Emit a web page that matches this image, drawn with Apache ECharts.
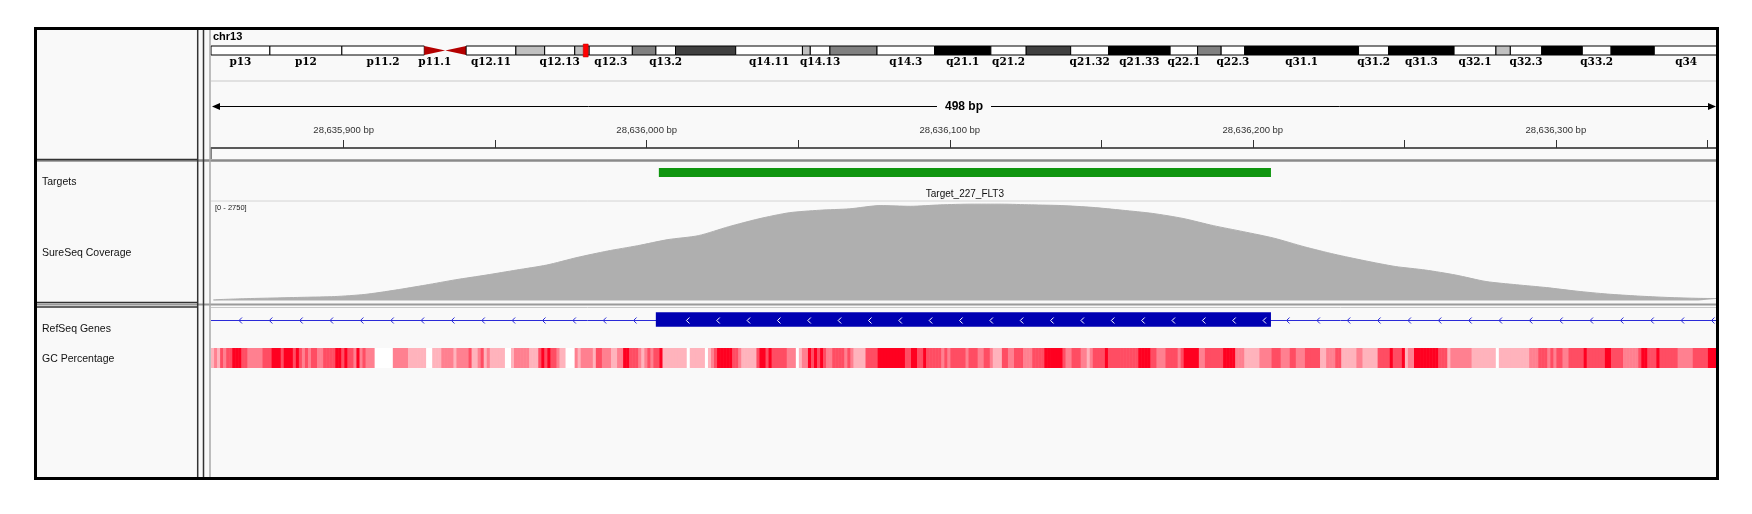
<!DOCTYPE html>
<html>
<head>
<meta charset="utf-8">
<title>chr13 FLT3 - Target_227_FLT3</title>
<script src="https://cdn.jsdelivr.net/npm/echarts@6/dist/echarts.min.js"></script>
<style>
  html, body { margin: 0; padding: 0; background: #fff; }
  #chart { width: 1752px; height: 514px; }
</style>
</head>
<body>
<div id="chart"></div>
<script>
// locus shown: chr13, FLT3 exon covered by Target_227_FLT3
const chrom = "chr13";
const chromLengthMb = 115.169878;
const regionStart = 28635856.2;
const regionEnd = 28636353.2;

// cytobands of chr13 (Mb)
const bandNames = ["p13", "p12", "p11.2", "p11.1", "q11", "q12.11", "q12.12", "q12.13", "q12.2", "q12.3",
  "q13.1", "q13.2", "q13.3", "q14.11", "q14.12", "q14.13", "q14.2", "q14.3", "q21.1", "q21.2",
  "q21.31", "q21.32", "q21.33", "q22.1", "q22.2", "q22.3", "q31.1", "q31.2", "q31.3", "q32.1",
  "q32.2", "q32.3", "q33.1", "q33.2", "q33.3", "q34"];
const bandStarts = [0, 4.5, 10.0, 16.3, 17.9, 19.5, 23.3, 25.5, 27.8, 28.9,
  32.2, 34.0, 35.5, 40.1, 45.2, 45.8, 47.3, 50.9, 55.3, 59.6,
  62.3, 65.7, 68.6, 73.3, 75.4, 77.2, 79.0, 87.7, 90.0, 95.0,
  98.2, 99.3, 101.7, 104.8, 107.0, 110.3];
const bandEnds = [4.5, 10.0, 16.3, 17.9, 19.5, 23.3, 25.5, 27.8, 28.9, 32.2,
  34.0, 35.5, 40.1, 45.2, 45.8, 47.3, 50.9, 55.3, 59.6, 62.3,
  65.7, 68.6, 73.3, 75.4, 77.2, 79.0, 87.7, 90.0, 95.0, 98.2,
  99.3, 101.7, 104.8, 107.0, 110.3, 115.169878];
const bandStains = ["gvar", "stalk", "gvar", "acen", "acen", "gneg", "gpos25", "gneg", "gpos25", "gneg",
  "gpos50", "gneg", "gpos75", "gneg", "gpos25", "gneg", "gpos50", "gneg", "gpos100", "gneg",
  "gpos75", "gneg", "gpos100", "gneg", "gpos50", "gneg", "gpos100", "gneg", "gpos100", "gneg",
  "gpos25", "gneg", "gpos100", "gneg", "gpos100", "gneg"];
const bandLabelsShown = ["p13", "p12", "p11.2", "p11.1", "q12.11", "q12.13", "q12.3", "q13.2", "q14.11",
  "q14.13", "q14.3", "q21.1", "q21.2", "q21.32", "q21.33", "q22.1", "q22.3", "q31.1", "q31.2",
  "q31.3", "q32.1", "q32.3", "q33.2", "q34"];

// ruler
const rulerTicks = [28635900, 28635950, 28636000, 28636050, 28636100, 28636150,
  28636200, 28636250, 28636300, 28636350];
const rulerLabels = [28635900, 28636000, 28636100, 28636200, 28636300];

// Targets track
const targetName = "Target_227_FLT3";
const targetStart = 28636004;
const targetEnd = 28636206;

// SureSeq Coverage track
const coverageMax = 2750;
const coveragePos = [28635857, 28635867, 28635877, 28635887, 28635897, 28635907, 28635917, 28635927,
  28635937, 28635947, 28635957, 28635967, 28635977, 28635987, 28635997, 28636007, 28636017,
  28636027, 28636037, 28636047, 28636057, 28636067, 28636077, 28636087, 28636097, 28636107,
  28636117, 28636127, 28636137, 28636147, 28636157, 28636167, 28636177, 28636187, 28636197,
  28636207, 28636217, 28636227, 28636237, 28636247, 28636257, 28636267, 28636277, 28636287,
  28636297, 28636307, 28636317, 28636327, 28636337, 28636347, 28636354];
const coverageDepth = [20, 50, 70, 90, 110, 170, 290, 430, 580, 710,
  850, 990, 1200, 1380, 1530, 1700, 1810, 2060, 2280, 2450,
  2520, 2560, 2650, 2630, 2670, 2690, 2690, 2670, 2650, 2600,
  2520, 2430, 2290, 2090, 1920, 1740, 1500, 1290, 1110, 950,
  850, 710, 530, 440, 360, 260, 180, 125, 85, 60, 55];

// RefSeq Genes track (minus strand)
const geneName = "FLT3";
const exonStart = 28636003;
const exonEnd = 28636206;

// GC Percentage, one value per base from the left edge of the view
const gcPercent = [
  45,55,45,65,55,65,65,80,80,80, 65,65,55,55,55,55,55,65,65,65,
  80,80,80,65,80,80,80,65,80,65, 55,65,55,65,65,55,55,65,65,65,
  65,80,80,65,80,65,65,55,80,55, 65,55,55,55,30,30,30,30,30,30,
  55,55,55,55,55,45,45,45,45,45, 45,30,30,45,45,45,55,55,55,55,
  45,55,55,55,55,65,45,45,55,65, 45,55,45,45,45,45,45,30,30,45,
  55,55,55,55,55,45,45,45,65,80, 65,80,65,65,55,45,45,30,30,30,
  55,45,55,55,55,55,45,65,65,55, 55,55,45,45,55,55,80,80,65,65,
  65,55,45,55,65,55,65,65,80,45, 45,45,45,45,45,45,45,30,45,45,
  45,45,45,30,45,55,65,80,80,80, 80,80,65,65,55,45,45,45,45,45,
  65,80,80,65,80,65,65,65,65,65, 55,55,55,30,45,55,55,80,65,80,
  65,80,65,55,55,65,65,65,65,55, 65,55,45,45,45,45,65,65,65,65,
  80,80,80,80,80,80,80,80,80,65, 65,80,80,65,65,80,65,65,65,65,
  65,55,65,55,65,65,65,65,65,55, 65,65,65,55,55,65,65,55,45,45,
  45,65,65,55,55,65,65,65,55,55, 55,65,65,65,65,80,80,80,80,80,
  80,65,55,55,65,65,65,55,55,45, 55,65,65,65,65,80,65,65,65,65,
  65,65,65,65,65,65,80,80,80,80, 65,65,55,55,55,65,65,65,65,55,
  65,80,80,80,80,80,55,55,65,65, 65,65,65,65,80,80,80,80,55,55,
  55,45,45,45,45,45,55,55,55,55, 65,65,65,55,55,55,65,65,55,55,
  55,65,65,65,65,65,45,45,55,55, 55,65,65,45,45,45,45,45,55,55,
  45,45,45,45,45,65,65,65,65,80, 65,65,65,80,45,55,55,80,80,80,
  80,80,80,80,80,65,65,65,45,55, 55,55,55,55,55,55,45,45,45,45,
  45,45,45,45,30,45,45,45,45,45, 45,45,45,45,45,55,55,55,65,65,
  65,55,65,55,65,65,55,55,65,65, 65,65,65,80,65,65,65,65,65,65,
  80,80,65,65,65,65,55,55,55,55, 55,65,80,80,65,65,65,80,65,65,
  65,65,65,65,55,55,55,55,55,65, 65,65,65,65,80,80,80,80
];

const trackNames = ["Targets", "SureSeq Coverage", "RefSeq Genes", "GC Percentage"];

const stainColors = {
  gneg: "#ffffff", gvar: "#ffffff", stalk: "#ffffff",
  gpos25: "#c0c0c0", gpos50: "#808080", gpos75: "#404040", gpos100: "#000000",
  acen: "#b40000"
};
const panelBg = "#f9f9f9";
const sans = "Liberation Sans, Arial, sans-serif";

const chart = echarts.init(document.getElementById("chart"));

function grid(top, height, right) {
  return { left: 211, right: right, top: top, height: height, containLabel: false, outerBoundsMode: "none" };
}
function hiddenX(i, min, max) {
  return { gridIndex: i, type: "value", min: min, max: max, show: false };
}
function hiddenY(i, max) {
  return { gridIndex: i, type: "value", min: 0, max: max, show: false };
}
function hline(x1, x2, y, color, w) {
  return { type: "line", z: 100, shape: { x1: x1, y1: y, x2: x2, y2: y }, style: { stroke: color, lineWidth: w } };
}
function vline(x, y1, y2, color, w) {
  return { type: "line", z: 100, shape: { x1: x, y1: y1, x2: x, y2: y2 }, style: { stroke: color, lineWidth: w } };
}
function chevron(x, y, color) {
  return { type: "polyline", shape: { points: [[x + 2, y - 3], [x - 1, y], [x + 2, y + 3]] },
    style: { stroke: color, lineWidth: 1, fill: null } };
}

const panelText = [
  { name: trackNames[0], y: 182 },
  { name: trackNames[1], y: 253 },
  { name: trackNames[2], y: 329 },
  { name: trackNames[3], y: 359 }
].map(t => ({
  type: "text", x: 42, y: t.y, z: 100,
  style: { text: t.name, fontSize: 10.5, fontFamily: sans, fill: "#111", verticalAlign: "middle" }
}));

const option = {
  animation: false,
  backgroundColor: "#ffffff",
  grid: [
    grid(46, 9, 34),      // ideogram
    grid(82, 66, 35),     // ruler
    grid(160, 41, 35),    // Targets
    grid(202, 98.5, 35),  // coverage
    grid(310, 20, 35),    // genes
    grid(348, 20, 35)     // GC
  ],
  xAxis: [
    hiddenX(0, 0, chromLengthMb),
    {
      gridIndex: 1, type: "value", min: regionStart, max: regionEnd,
      axisLine: { show: true, lineStyle: { color: "#5a5a5a", width: 2 } },
      axisTick: { show: true, inside: true, length: 8, customValues: rulerTicks,
        lineStyle: { color: "#333", width: 1 } },
      axisLabel: { show: true, inside: true, margin: 13, customValues: rulerLabels,
        formatter: v => v.toLocaleString("en-US") + " bp",
        fontSize: 9.5, fontFamily: sans, color: "#333" },
      splitLine: { show: false }
    },
    hiddenX(2, regionStart, regionEnd),
    hiddenX(3, regionStart, regionEnd),
    hiddenX(4, regionStart, regionEnd),
    hiddenX(5, regionStart, regionEnd)
  ],
  yAxis: [hiddenY(0, 1), hiddenY(1, 1), hiddenY(2, 1), hiddenY(3, coverageMax), hiddenY(4, 1), hiddenY(5, 1)],
  visualMap: {
    type: "continuous", show: false, seriesIndex: 6, dimension: 1,
    min: 30, max: 80, inRange: { color: ["#ffffff", "#ff0020"] }
  },
  graphic: [
    { type: "rect", z: -10, shape: { x: 36, y: 29, width: 1681, height: 449 }, style: { fill: panelBg } },
    hline(211, 1717, 81, "#d9d9d9", 1.5),
    hline(211, 1717, 201, "#d4d4d4", 1),
    vline(211, 148, 159, "#5a5a5a", 1.5),
    hline(36, 1717, 160.5, "#8a8a8a", 2.5),
    hline(36, 198, 159.5, "#333", 1.5),
    hline(36, 198, 302.5, "#333", 1.5),
    hline(36, 1717, 304.5, "#9a9a9a", 2),
    hline(36, 198, 307, "#333", 1.5),
    hline(211, 1717, 307.5, "#c8c8c8", 1),
    vline(197.7, 29, 478, "#333", 1.5),
    vline(203.5, 29, 478, "#333", 1.5),
    vline(210, 29, 478, "#a8a8a8", 1.5),
    { type: "text", x: 213, y: 37, z: 100,
      style: { text: chrom, fontSize: 11, fontWeight: "bold", fontFamily: sans, fill: "#000", verticalAlign: "middle" } },
    { type: "text", x: 215, y: 208, z: 100,
      style: { text: "[0 - " + coverageMax + "]", fontSize: 7.5, fontFamily: sans, fill: "#222", verticalAlign: "middle" } },
    { type: "rect", z: 200, shape: { x: 35.5, y: 28.5, width: 1682, height: 450 },
      style: { fill: null, stroke: "#000", lineWidth: 3 } }
  ].concat(panelText),
  series: [
    {
      // chromosome ideogram
      type: "custom", xAxisIndex: 0, yAxisIndex: 0, clip: false, silent: true,
      data: bandNames.map((n, i) => [bandStarts[i], bandEnds[i]]),
      encode: { x: [0, 1] },
      renderItem(params, api) {
        const i = params.dataIndex;
        const s = api.coord([api.value(0), 0]);
        const e = api.coord([api.value(1), 1]);
        const x0 = s[0], x1 = e[0], yTop = e[1], yBot = s[1];
        const name = bandNames[i];
        const children = [];
        if (bandStains[i] === "acen") {
          const mid = (yTop + yBot) / 2;
          const pts = name.charAt(0) === "p"
            ? [[x0, yTop], [x1, mid], [x0, yBot]]
            : [[x1, yTop], [x0, mid], [x1, yBot]];
          children.push({ type: "polygon", shape: { points: pts }, style: { fill: stainColors.acen } });
        } else {
          children.push({ type: "rect", shape: { x: x0, y: yTop, width: x1 - x0, height: yBot - yTop },
            style: { fill: stainColors[bandStains[i]], stroke: "#000", lineWidth: 1 } });
        }
        if (bandLabelsShown.indexOf(name) >= 0) {
          children.push({ type: "text", x: (x0 + x1) / 2, y: yBot + 7.5,
            style: { text: name, fontSize: 10.5, fontWeight: "bold", fontFamily: "DejaVu Serif, serif",
              fill: "#000", align: "center", verticalAlign: "middle" } });
        }
        return { type: "group", children: children };
      }
    },
    {
      // current view marker on the ideogram
      type: "custom", xAxisIndex: 0, yAxisIndex: 0, clip: false, silent: true, z: 5,
      data: [[(regionStart + regionEnd) / 2 / 1e6]],
      renderItem(params, api) {
        const c = api.coord([api.value(0), 1]);
        const b = api.coord([api.value(0), 0]);
        return { type: "rect", shape: { x: c[0] - 2.5, y: c[1] - 2, width: 5, height: b[1] - c[1] + 4 },
          style: { fill: "#ff0000", stroke: "#c00000", lineWidth: 0.5 } };
      }
    },
    {
      // ruler span arrow
      type: "custom", xAxisIndex: 1, yAxisIndex: 1, clip: false, silent: true,
      data: [[regionStart, regionEnd]],
      encode: { x: [0, 1] },
      renderItem(params, api) {
        const a = api.coord([api.value(0), 0.636]);
        const b = api.coord([api.value(1), 0.636]);
        const y = Math.round(a[1]) + 0.5;
        const span = Math.round(regionEnd - regionStart) + 1;
        return { type: "group", children: [
          { type: "line", shape: { x1: a[0] + 2, y1: y, x2: b[0] - 2, y2: y }, style: { stroke: "#000", lineWidth: 1 } },
          { type: "polygon", shape: { points: [[a[0] + 1, y], [a[0] + 9, y - 3.5], [a[0] + 9, y + 3.5]] }, style: { fill: "#000" } },
          { type: "polygon", shape: { points: [[b[0] - 1, y], [b[0] - 9, y - 3.5], [b[0] - 9, y + 3.5]] }, style: { fill: "#000" } },
          { type: "text", x: (a[0] + b[0]) / 2, y: y,
            style: { text: span + " bp", fontSize: 12, fontWeight: "bold", fontFamily: sans, fill: "#000",
              align: "center", verticalAlign: "middle", backgroundColor: panelBg, padding: [1, 8] } }
        ] };
      }
    },
    {
      // Targets
      type: "custom", xAxisIndex: 2, yAxisIndex: 2, clip: true, silent: true,
      data: [[targetStart, targetEnd]],
      encode: { x: [0, 1] },
      renderItem(params, api) {
        const s = api.coord([api.value(0), 0]);
        const e = api.coord([api.value(1), 0]);
        const top = params.coordSys.y;
        return { type: "group", children: [
          { type: "rect", shape: { x: s[0], y: top + 8, width: e[0] - s[0], height: 9 }, style: { fill: "#109610" } },
          { type: "text", x: (s[0] + e[0]) / 2, y: top + 34,
            style: { text: targetName, fontSize: 10, fontFamily: sans, fill: "#111", align: "center", verticalAlign: "middle" } }
        ] };
      }
    },
    {
      // SureSeq Coverage
      type: "line", xAxisIndex: 3, yAxisIndex: 3, silent: true,
      data: coveragePos.map((p, i) => [p, coverageDepth[i]]),
      smooth: 0.25, showSymbol: false, symbol: "none",
      lineStyle: { color: "#afafaf", width: 1 },
      areaStyle: { color: "#afafaf", opacity: 1 },
      clip: true
    },
    {
      // RefSeq Genes
      type: "custom", xAxisIndex: 4, yAxisIndex: 4, clip: true, silent: true,
      data: [[exonStart, exonEnd]],
      encode: { x: [0, 1] },
      renderItem(params, api) {
        const cs = params.coordSys;
        const s = api.coord([api.value(0), 0]);
        const e = api.coord([api.value(1), 0]);
        const y = cs.y + 10.5;
        const spacing = 30.35;
        const children = [
          { type: "line", shape: { x1: cs.x, y1: y, x2: cs.x + cs.width, y2: y }, style: { stroke: "#2a2ad8", lineWidth: 1 } }
        ];
        for (let x = cs.x + 29; x < s[0] - 8; x += spacing) children.push(chevron(x, y, "#2a2ad8"));
        for (let x = e[0] + 16.6; x < cs.x + cs.width - 2; x += spacing) children.push(chevron(x, y, "#2a2ad8"));
        children.push({ type: "rect", shape: { x: s[0], y: cs.y + 2.3, width: e[0] - s[0], height: 14.4 },
          style: { fill: "#0000b2" } });
        for (let x = s[0] + 31.6; x < e[0] - 3; x += spacing) children.push(chevron(x, y, "#ffffff"));
        children.push({ type: "text", x: (s[0] + e[0]) / 2, y: cs.y + 31.7,
          style: { text: geneName, fontSize: 10, fontFamily: sans, fill: "#111", align: "center", verticalAlign: "middle" } });
        return { type: "group", children: children };
      }
    },
    {
      // GC Percentage
      type: "custom", xAxisIndex: 5, yAxisIndex: 5, clip: true, silent: true,
      data: gcPercent.map((v, i) => [regionStart + i, v]),
      encode: { x: 0 },
      renderItem(params, api) {
        const cs = params.coordSys;
        const a = api.coord([api.value(0), 0]);
        const b = api.coord([api.value(0) + 1, 0]);
        return { type: "rect", shape: { x: a[0], y: cs.y, width: b[0] - a[0] + 0.6, height: cs.height },
          style: { fill: api.visual("color") } };
      }
    }
  ]
};

chart.setOption(option);
</script>
</body>
</html>
